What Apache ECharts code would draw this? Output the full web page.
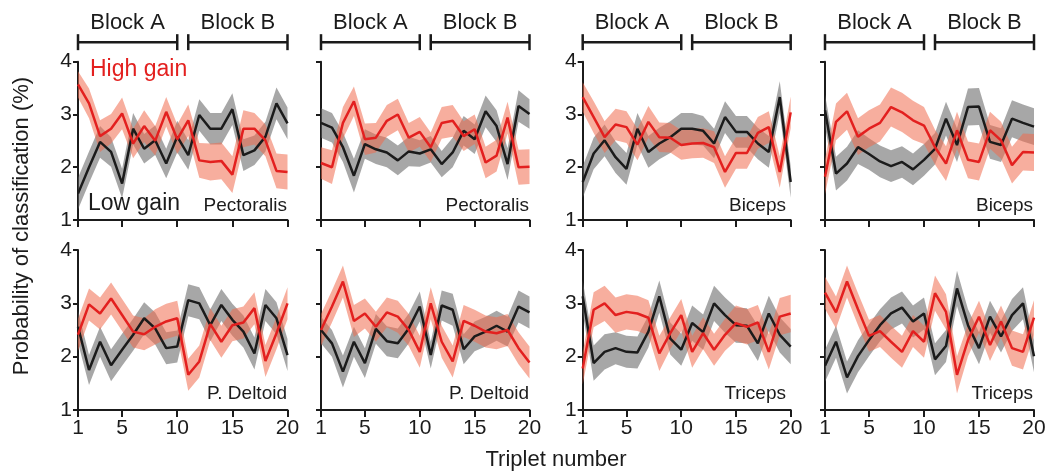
<!DOCTYPE html>
<html><head><meta charset="utf-8">
<script src="https://cdn.jsdelivr.net/npm/echarts@6/dist/echarts.min.js"></script>
<style>html,body{margin:0;padding:0;background:#fff}#c{width:1049px;height:472px}</style>
</head><body><div id="c"></div>
<script>
// ---------- data ----------
const triplets = [1,2,3,4,5,6,7,8,9,10,11,12,13,14,15,16,17,18,19,20];
const xTicks = [1,5,10,15,20];
const muscles = ['Pectoralis','Pectoralis','Biceps','Biceps','P. Deltoid','P. Deltoid','Triceps','Triceps'];
const blockNames = ['Block A','Block B'];
const blockStart = [1,11];
const blockEnd = [10,20];

const high1 = [3.57,3.21,2.59,2.73,3.02,2.45,2.78,2.5,3.05,2.53,2.89,2.13,2.1,2.12,1.86,2.73,2.73,2.51,1.93,1.91];
const high1Err = [0.25,0.28,0.3,0.28,0.3,0.28,0.3,0.28,0.28,0.28,0.3,0.33,0.35,0.35,0.35,0.35,0.3,0.3,0.33,0.33];
const low1 = [1.5,2.0,2.48,2.29,1.69,2.73,2.35,2.51,2.07,2.58,2.23,2.99,2.73,2.73,3.1,2.23,2.32,2.58,3.21,2.83];
const low1Err = [0.3,0.3,0.3,0.28,0.28,0.3,0.28,0.28,0.28,0.3,0.28,0.3,0.3,0.3,0.3,0.3,0.28,0.28,0.3,0.3];

const high2 = [2.08,2.0,2.84,3.25,2.53,2.56,2.88,3.0,2.56,2.67,2.38,2.84,2.88,2.59,2.72,2.09,2.22,2.94,2.0,2.01];
const high2Err = [0.3,0.32,0.3,0.28,0.3,0.28,0.3,0.3,0.28,0.28,0.28,0.3,0.3,0.28,0.28,0.3,0.3,0.3,0.33,0.33];
const low2 = [2.84,2.75,2.38,1.84,2.44,2.34,2.28,2.13,2.3,2.26,2.34,2.06,2.28,2.69,2.53,3.06,2.78,2.06,3.16,3.01];
const low2Err = [0.28,0.28,0.28,0.32,0.28,0.28,0.28,0.28,0.28,0.25,0.25,0.25,0.28,0.28,0.28,0.3,0.3,0.3,0.3,0.28];

const high3 = [3.33,2.95,2.57,2.81,2.76,2.43,2.86,2.57,2.56,2.42,2.45,2.46,2.38,1.91,2.27,2.27,2.65,2.76,1.91,3.04];
const high3Err = [0.28,0.3,0.3,0.3,0.3,0.3,0.3,0.28,0.28,0.28,0.28,0.28,0.3,0.3,0.3,0.3,0.3,0.3,0.3,0.3];
const low3 = [1.72,2.26,2.51,2.19,1.97,2.73,2.29,2.45,2.57,2.73,2.73,2.69,2.45,2.95,2.67,2.67,2.45,2.29,3.33,1.72];
const low3Err = [0.3,0.3,0.3,0.3,0.3,0.3,0.3,0.3,0.3,0.3,0.3,0.28,0.28,0.3,0.3,0.3,0.3,0.3,0.3,0.3];

const high4 = [1.82,2.86,3.06,2.58,2.73,2.84,3.14,3.04,2.89,2.79,2.38,2.07,2.7,2.14,2.1,2.7,2.51,2.04,2.29,2.28];
const high4Err = [0.33,0.35,0.35,0.35,0.35,0.35,0.37,0.37,0.37,0.35,0.33,0.33,0.35,0.35,0.35,0.35,0.35,0.35,0.35,0.35];
const low4 = [3.08,1.88,2.07,2.38,2.25,2.11,2.02,2.1,1.96,2.14,2.35,2.92,2.42,3.14,3.15,2.48,2.42,2.92,2.84,2.77];
const low4Err = [0.3,0.32,0.32,0.32,0.3,0.3,0.3,0.3,0.3,0.3,0.3,0.32,0.32,0.35,0.35,0.32,0.32,0.35,0.35,0.35];

const high5 = [2.41,2.98,2.81,3.09,2.78,2.47,2.42,2.56,2.66,2.72,1.66,1.91,2.61,2.28,2.59,2.64,2.91,1.92,2.44,3.0];
const high5Err = [0.3,0.3,0.3,0.3,0.3,0.3,0.3,0.33,0.33,0.33,0.3,0.3,0.3,0.3,0.3,0.3,0.3,0.3,0.3,0.3];
const low5 = [2.56,1.75,2.28,1.84,2.13,2.41,2.72,2.53,2.16,2.19,3.06,3.0,2.59,2.97,2.69,2.47,2.06,2.97,2.72,2.03];
const low5Err = [0.3,0.28,0.28,0.3,0.3,0.3,0.3,0.3,0.3,0.3,0.3,0.3,0.3,0.3,0.3,0.3,0.3,0.3,0.3,0.3];

const high6 = [2.5,2.94,3.41,2.67,2.81,2.56,2.83,2.75,2.5,2.09,3.0,2.28,1.91,2.67,2.58,2.47,2.44,2.5,2.16,1.89];
const high6Err = [0.3,0.3,0.3,0.3,0.28,0.28,0.28,0.3,0.3,0.3,0.3,0.3,0.3,0.3,0.3,0.3,0.3,0.3,0.3,0.3];
const low6 = [2.5,2.25,1.72,2.28,1.88,2.52,2.29,2.25,2.53,2.94,2.03,2.96,2.88,2.14,2.38,2.47,2.58,2.47,2.94,2.83];
const low6Err = [0.25,0.25,0.3,0.28,0.28,0.28,0.28,0.28,0.28,0.28,0.25,0.28,0.3,0.28,0.28,0.28,0.28,0.28,0.3,0.3];

const high7 = [1.78,2.88,3.0,2.78,2.84,2.81,2.73,2.06,2.44,2.78,2.09,2.44,2.13,2.41,2.63,2.56,2.64,2.09,2.75,2.81];
const high7Err = [0.3,0.33,0.33,0.33,0.33,0.33,0.33,0.33,0.3,0.3,0.3,0.3,0.3,0.3,0.33,0.33,0.33,0.33,0.35,0.35];
const low7 = [3.13,1.88,2.09,2.16,2.09,2.08,2.47,3.13,2.34,2.13,2.63,2.46,3.0,2.78,2.59,2.58,2.25,2.81,2.41,2.19];
const low7Err = [0.3,0.33,0.33,0.3,0.3,0.3,0.3,0.3,0.3,0.3,0.33,0.33,0.33,0.33,0.33,0.33,0.33,0.33,0.33,0.33];

const high8 = [3.2,2.83,3.41,2.89,2.39,2.48,2.28,2.09,2.48,2.28,3.19,2.84,1.66,2.31,2.75,2.22,2.66,2.16,2.09,2.73];
const high8Err = [0.3,0.3,0.3,0.3,0.3,0.3,0.3,0.3,0.3,0.3,0.33,0.33,0.35,0.3,0.3,0.3,0.3,0.33,0.33,0.33];
const low8 = [1.83,2.28,1.61,2.01,2.31,2.59,2.81,2.92,2.66,2.81,1.95,2.2,3.28,2.59,2.16,2.75,2.38,2.78,3.0,2.01];
const low8Err = [0.3,0.3,0.3,0.3,0.3,0.3,0.3,0.3,0.3,0.3,0.3,0.3,0.33,0.3,0.3,0.3,0.3,0.3,0.3,0.3];

const highAll = [high1,high2,high3,high4,high5,high6,high7,high8];
const highErrAll = [high1Err,high2Err,high3Err,high4Err,high5Err,high6Err,high7Err,high8Err];
const lowAll = [low1,low2,low3,low4,low5,low6,low7,low8];
const lowErrAll = [low1Err,low2Err,low3Err,low4Err,low5Err,low6Err,low7Err,low8Err];

// ---------- style ----------
const FONT = '"Liberation Sans", Arial, sans-serif';
const RED = '#e3201f', BLACK = '#1b1b1b';
const RED_BAND = 'rgba(240,108,78,0.55)', GRAY_BAND = 'rgba(95,95,95,0.55)';
const lefts = [78, 321, 582.7, 825];
const widths = [209.5, 208.5, 208, 209];
const tops = [61.7, 250];
const heights = [158.3, 160];

function bandSeries(k, mean, err, color) {
  const rows = triplets.map((t, i) => [t, mean[i] - err[i], mean[i] + err[i]]);
  return {
    type: 'custom', xAxisIndex: k, yAxisIndex: k, z: 1, silent: true,
    data: rows, encode: {x: 0, y: [1, 2]},
    renderItem: function (params, api) {
      if (params.dataIndex !== 0) return null;
      const pts = [];
      rows.forEach(r => pts.push(api.coord([r[0], r[2]])));
      for (let i = rows.length - 1; i >= 0; i--) pts.push(api.coord([rows[i][0], rows[i][1]]));
      return {type: 'polygon', shape: {points: pts}, style: {fill: color}};
    }
  };
}

const grids = [], xAxes = [], yAxes = [], series = [];
for (let k = 0; k < 8; k++) {
  const col = k % 4, row = Math.floor(k / 4);
  grids.push({left: lefts[col], top: tops[row], width: widths[col], height: heights[row], containLabel: false});
  xAxes.push({
    type: 'value', gridIndex: k, min: 1, max: 20,
    axisLine: {show: true, lineStyle: {color: BLACK, width: 2}},
    axisTick: {show: true, customValues: xTicks, length: 7, lineStyle: {color: BLACK, width: 2}},
    axisLabel: {show: row === 1, customValues: xTicks, color: '#1b1b1b', fontFamily: FONT, fontSize: 21, margin: 8},
    splitLine: {show: false}
  });
  yAxes.push({
    type: 'value', gridIndex: k, min: 1, max: 4, interval: 1,
    axisLine: {show: true, lineStyle: {color: BLACK, width: 2}},
    axisTick: {show: true, length: 5, lineStyle: {color: BLACK, width: 2}},
    axisLabel: {show: col % 2 === 0, color: '#1b1b1b', fontFamily: FONT, fontSize: 21, margin: 6},
    splitLine: {show: false}
  });
  const mk = (arr) => triplets.map((t, i) => [t, arr[i]]);
  series.push(bandSeries(k, lowAll[k], lowErrAll[k], GRAY_BAND));
  series.push(bandSeries(k, highAll[k], highErrAll[k], RED_BAND));
  series.push({type: 'line', xAxisIndex: k, yAxisIndex: k, data: mk(lowAll[k]), symbol: 'none',
    lineStyle: {color: BLACK, width: 2.5}, z: 3});
  series.push({type: 'line', xAxisIndex: k, yAxisIndex: k, data: mk(highAll[k]), symbol: 'none',
    lineStyle: {color: RED, width: 2.5}, z: 4});
  if (row === 0) {
    series.push({
      type: 'custom', xAxisIndex: k, yAxisIndex: k, clip: false, z: 5,
      data: blockNames.map((n, i) => [blockStart[i], blockEnd[i]]),
      encode: {x: [0, 1]},
      renderItem: function (params, api) {
        const i = params.dataIndex;
        const p0 = api.coord([blockStart[i], 4.37]);
        const p1 = api.coord([blockEnd[i], 4.37]);
        const pt = api.coord([(blockStart[i] + blockEnd[i]) / 2, 4.73]);
        const ls = {stroke: BLACK, lineWidth: 2.5};
        return {type: 'group', children: [
          {type: 'line', shape: {x1: p0[0], y1: p0[1], x2: p1[0], y2: p1[1]}, style: ls},
          {type: 'line', shape: {x1: p0[0], y1: p0[1] - 8, x2: p0[0], y2: p0[1] + 8}, style: ls},
          {type: 'line', shape: {x1: p1[0], y1: p1[1] - 8, x2: p1[0], y2: p1[1] + 8}, style: ls},
          {type: 'text', x: pt[0], y: pt[1], style: {text: blockNames[i], fill: '#1b1b1b',
            font: '22px ' + FONT, textAlign: 'center', textVerticalAlign: 'middle'}}
        ]};
      }
    });
  }
}

const muscleRight = [287, 529, 786, 1033];
const muscleY = [206, 394];
const graphic = [];
muscles.forEach((m, k) => {
  const col = k % 4, row = Math.floor(k / 4);
  graphic.push({type: 'text', z: 100, x: muscleRight[col], y: muscleY[row], style: {text: m, fill: '#1b1b1b',
    font: '19px ' + FONT, textAlign: 'right', textVerticalAlign: 'middle'}});
});
graphic.push({type: 'text', z: 100, x: 90, y: 70, style: {text: 'High gain', fill: RED, font: '23px ' + FONT, textVerticalAlign: 'middle'}});
graphic.push({type: 'text', z: 100, x: 88, y: 204, style: {text: 'Low gain', fill: '#1b1b1b', font: '23px ' + FONT, textVerticalAlign: 'middle'}});
graphic.push({type: 'text', z: 100, x: 22, y: 226, rotation: Math.PI / 2, style: {text: 'Probability of classification (%)', fill: '#1b1b1b', font: '22px ' + FONT, textAlign: 'center', textVerticalAlign: 'middle'}});
graphic.push({type: 'text', z: 100, x: 556, y: 460, style: {text: 'Triplet number', fill: '#1b1b1b', font: '22px ' + FONT, textAlign: 'center', textVerticalAlign: 'middle'}});

const chart = echarts.init(document.getElementById('c'), null, {renderer: 'canvas'});
chart.setOption({animation: false, backgroundColor: '#fff', grid: grids, xAxis: xAxes, yAxis: yAxes, series: series, graphic: graphic});
</script></body></html>
